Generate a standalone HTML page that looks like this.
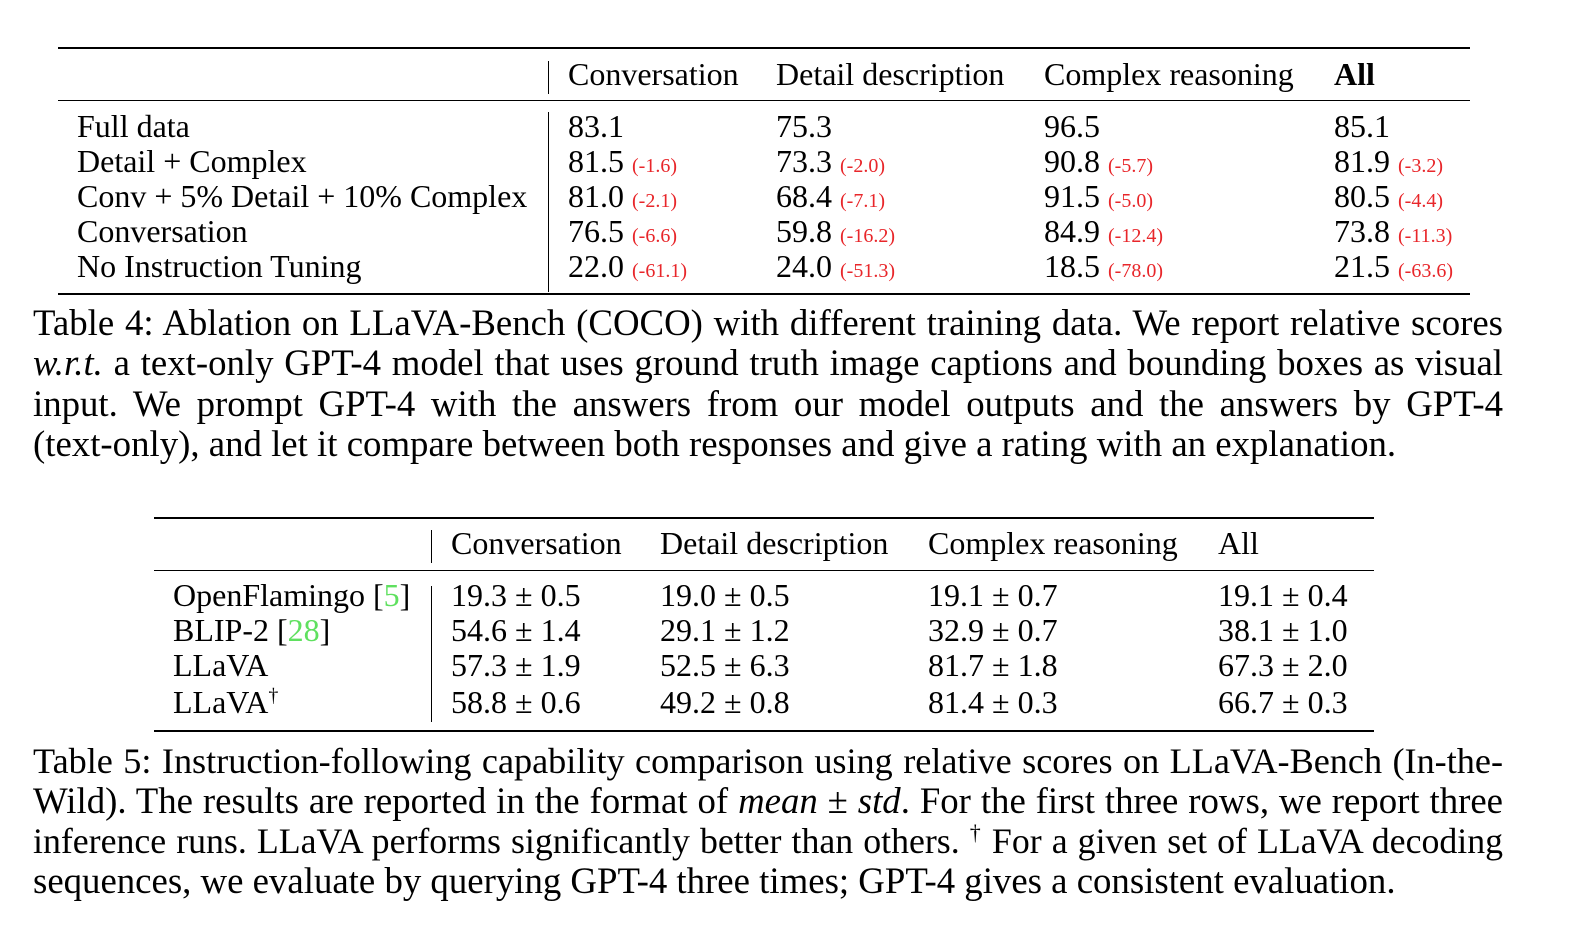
<!DOCTYPE html>
<html><head><meta charset="utf-8"><style>
body{margin:0;width:1584px;height:942px;background:#fff;position:relative;overflow:hidden;font-family:"Liberation Serif",serif;color:#000}
.t{position:absolute;font-size:32px;line-height:34px;white-space:nowrap}
.r{color:#e8262a;font-size:20px}
.g{color:#5fe05f}
.h{position:absolute;background:#000}
.c{position:absolute;left:33px;width:1470px;font-size:36.8px;line-height:40px;white-space:nowrap;text-align:justify;text-align-last:justify}
.c.l{text-align-last:left}
</style></head><body>
<div class="h" style="left:58px;top:47px;width:1412px;height:2px"></div>
<div class="h" style="left:58px;top:100px;width:1412px;height:1px"></div>
<div class="h" style="left:58px;top:293px;width:1412px;height:2px"></div>
<div class="h" style="left:548px;top:61px;width:1px;height:33px"></div>
<div class="h" style="left:548px;top:112px;width:1px;height:180px"></div>

<div class="t" style="left:568px;top:57px">Conversation</div>
<div class="t" style="left:776px;top:57px">Detail description</div>
<div class="t" style="left:1044px;top:57px">Complex reasoning</div>
<div class="t" style="left:1334px;top:57px;font-weight:bold">All</div>

<div class="t" style="left:77px;top:109px">Full data</div>
<div class="t" style="left:77px;top:144px">Detail + Complex</div>
<div class="t" style="left:77px;top:179px">Conv + 5% Detail + 10% Complex</div>
<div class="t" style="left:77px;top:214px">Conversation</div>
<div class="t" style="left:77px;top:249px">No Instruction Tuning</div>

<div class="t" style="left:568px;top:109px">83.1</div>
<div class="t" style="left:776px;top:109px">75.3</div>
<div class="t" style="left:1044px;top:109px">96.5</div>
<div class="t" style="left:1334px;top:109px">85.1</div>

<div class="t" style="left:568px;top:144px">81.5 <span class="r">(-1.6)</span></div>
<div class="t" style="left:776px;top:144px">73.3 <span class="r">(-2.0)</span></div>
<div class="t" style="left:1044px;top:144px">90.8 <span class="r">(-5.7)</span></div>
<div class="t" style="left:1334px;top:144px">81.9 <span class="r">(-3.2)</span></div>

<div class="t" style="left:568px;top:179px">81.0 <span class="r">(-2.1)</span></div>
<div class="t" style="left:776px;top:179px">68.4 <span class="r">(-7.1)</span></div>
<div class="t" style="left:1044px;top:179px">91.5 <span class="r">(-5.0)</span></div>
<div class="t" style="left:1334px;top:179px">80.5 <span class="r">(-4.4)</span></div>

<div class="t" style="left:568px;top:214px">76.5 <span class="r">(-6.6)</span></div>
<div class="t" style="left:776px;top:214px">59.8 <span class="r">(-16.2)</span></div>
<div class="t" style="left:1044px;top:214px">84.9 <span class="r">(-12.4)</span></div>
<div class="t" style="left:1334px;top:214px">73.8 <span class="r">(-11.3)</span></div>

<div class="t" style="left:568px;top:249px">22.0 <span class="r">(-61.1)</span></div>
<div class="t" style="left:776px;top:249px">24.0 <span class="r">(-51.3)</span></div>
<div class="t" style="left:1044px;top:249px">18.5 <span class="r">(-78.0)</span></div>
<div class="t" style="left:1334px;top:249px">21.5 <span class="r">(-63.6)</span></div>

<div class="c" style="top:303px">Table 4: Ablation on LLaVA-Bench (COCO) with different training data. We report relative scores</div>
<div class="c" style="top:343px"><i>w.r.t.</i> a text-only GPT-4 model that uses ground truth image captions and bounding boxes as visual</div>
<div class="c" style="top:384px">input. We prompt GPT-4 with the answers from our model outputs and the answers by GPT-4</div>
<div class="c l" style="top:424px">(text-only), and let it compare between both responses and give a rating with an explanation.</div>

<div class="h" style="left:154px;top:517px;width:1220px;height:2px"></div>
<div class="h" style="left:154px;top:570px;width:1220px;height:1px"></div>
<div class="h" style="left:154px;top:730px;width:1220px;height:2px"></div>
<div class="h" style="left:431px;top:530px;width:1px;height:33px"></div>
<div class="h" style="left:431px;top:586px;width:1px;height:136px"></div>

<div class="t" style="left:451px;top:526px">Conversation</div>
<div class="t" style="left:660px;top:526px">Detail description</div>
<div class="t" style="left:928px;top:526px">Complex reasoning</div>
<div class="t" style="left:1218px;top:526px">All</div>

<div class="t" style="left:173px;top:578px">OpenFlamingo [<span class="g">5</span>]</div>
<div class="t" style="left:173px;top:613px">BLIP-2 [<span class="g">28</span>]</div>
<div class="t" style="left:173px;top:648px">LLaVA</div>
<div class="t" style="left:173px;top:685px">LLaVA<sup style="font-size:20px;line-height:0">†</sup></div>

<div class="t" style="left:451px;top:578px">19.3 ± 0.5</div>
<div class="t" style="left:660px;top:578px">19.0 ± 0.5</div>
<div class="t" style="left:928px;top:578px">19.1 ± 0.7</div>
<div class="t" style="left:1218px;top:578px">19.1 ± 0.4</div>
<div class="t" style="left:451px;top:613px">54.6 ± 1.4</div>
<div class="t" style="left:660px;top:613px">29.1 ± 1.2</div>
<div class="t" style="left:928px;top:613px">32.9 ± 0.7</div>
<div class="t" style="left:1218px;top:613px">38.1 ± 1.0</div>
<div class="t" style="left:451px;top:648px">57.3 ± 1.9</div>
<div class="t" style="left:660px;top:648px">52.5 ± 6.3</div>
<div class="t" style="left:928px;top:648px">81.7 ± 1.8</div>
<div class="t" style="left:1218px;top:648px">67.3 ± 2.0</div>
<div class="t" style="left:451px;top:685px">58.8 ± 0.6</div>
<div class="t" style="left:660px;top:685px">49.2 ± 0.8</div>
<div class="t" style="left:928px;top:685px">81.4 ± 0.3</div>
<div class="t" style="left:1218px;top:685px">66.7 ± 0.3</div>

<div class="c" style="top:741px;font-size:36.2px">Table 5: Instruction-following capability comparison using relative scores on LLaVA-Bench (In-the-</div>
<div class="c" style="top:781px">Wild). The results are reported in the format of <i>mean</i> ± <i>std</i>. For the first three rows, we report three</div>
<div class="c" style="top:821px;font-size:35.8px">inference runs. LLaVA performs significantly better than others. <sup style="font-size:22px;line-height:0">†</sup> For a given set of LLaVA decoding</div>
<div class="c l" style="top:861px">sequences, we evaluate by querying GPT-4 three times; GPT-4 gives a consistent evaluation.</div>
</body></html>
